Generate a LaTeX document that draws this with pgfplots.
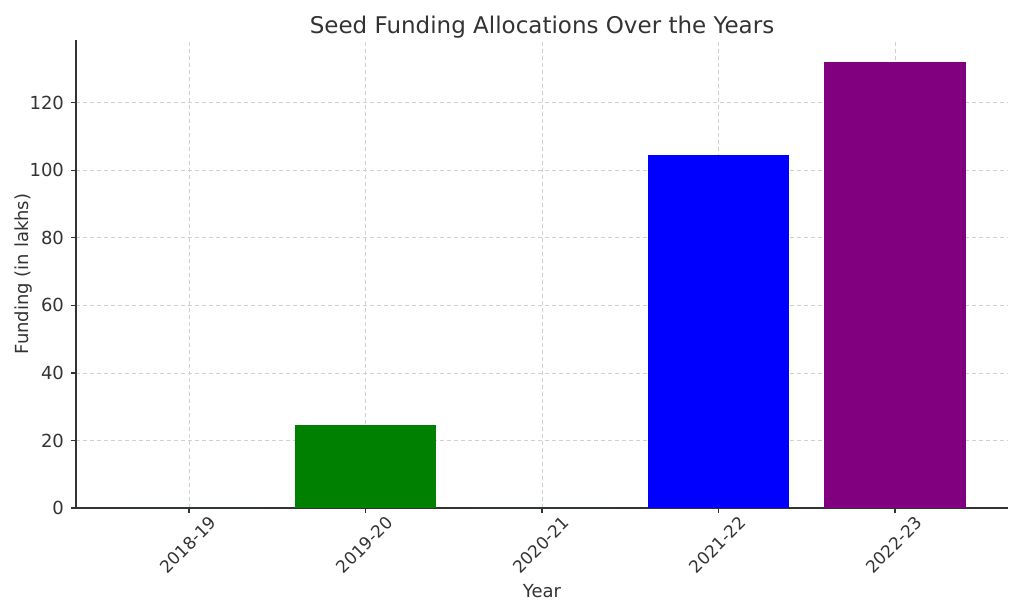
\documentclass[border=0pt]{standalone}
\usepackage{pgfplots}
\pgfplotsset{compat=1.18}
\usepackage{fontspec}
\setmainfont{DejaVu Sans}
\definecolor{axisgray}{HTML}{333333}
\definecolor{gridgray}{HTML}{D0D0D0}
\definecolor{mplgreen}{HTML}{008000}
\definecolor{mplblue}{HTML}{0000FF}
\definecolor{mplpurple}{HTML}{800080}

\begin{document}
\begin{tikzpicture}
\begin{axis}[
    scale only axis,
    width=466pt,
    height=234pt,
    ybar,
    bar width=0.8,
    bar shift=0pt,
    xmin=-0.64, xmax=4.64,
    ymin=0, ymax=138.6,
    xtick={0,1,2,3,4},
    xticklabels={2018-19,2019-20,2020-21,2021-22,2022-23},
    ytick={0,20,40,60,80,100,120},
    x tick label style={yshift=-16pt, xshift=-0.5pt, rotate=45, anchor=center, font=\fontsize{8.5}{10}\selectfont, text=axisgray},
    y tick label style={font=\fontsize{9}{10}\selectfont, text=axisgray},
    /pgf/number format/assume math mode=true,
    xlabel={Year},
    ylabel={Funding (in lakhs)},
    label style={font=\fontsize{9}{10}\selectfont, text=axisgray},
    xlabel style={yshift=3.5pt},
    ylabel shift=-8pt,
    title={Seed Funding Allocations Over the Years},
    title style={font=\fontsize{11.5}{13}\selectfont, text=axisgray, yshift=-8.5pt},
    axis x line*=bottom,
    axis y line*=left,
    axis line style={axisgray, line width=0.6pt, -},
    tick style={axisgray, line width=0.6pt},
    tick align=outside,
    major tick length=2.5pt,
    xmajorgrids=true,
    ymajorgrids=true,
    grid style={gridgray, dash pattern=on 2pt off 1.5pt, line width=0.4pt},
]
\addplot[fill=mplgreen, draw=none] coordinates {(0,0)};
\addplot[fill=mplgreen, draw=none] coordinates {(1,24.7)};
\addplot[fill=mplgreen, draw=none] coordinates {(2,0)};
\addplot[fill=mplblue, draw=none] coordinates {(3,104.5)};
\addplot[fill=mplpurple, draw=none] coordinates {(4,132.1)};
\end{axis}
\pgfresetboundingbox
\useasboundingbox (current axis.south west)++(-38pt,-53pt) rectangle ([shift={(8pt,20pt)}]current axis.north east);
\end{tikzpicture}
\end{document}
